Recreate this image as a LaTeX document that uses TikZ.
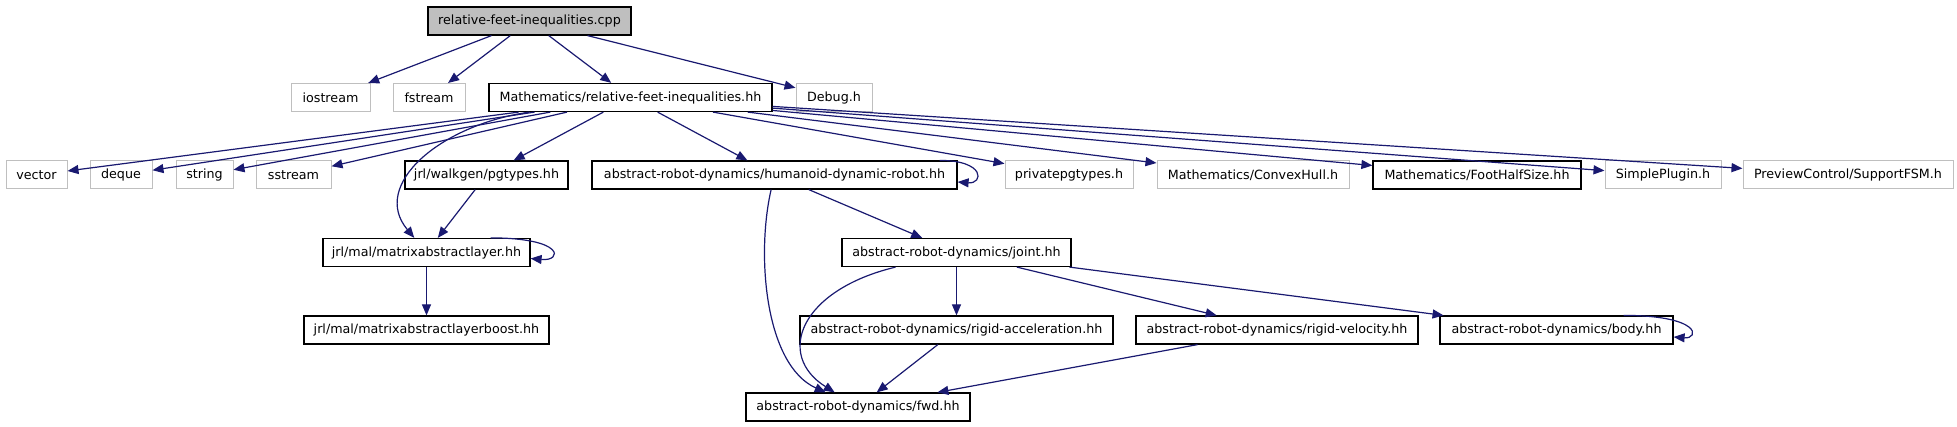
\documentclass[tikz,border=0pt]{standalone}
\usepackage{fontspec}
\setmainfont{DejaVu Sans}
\usetikzlibrary{arrows.meta}
\definecolor{depblue}{HTML}{191970}
\definecolor{sysgray}{HTML}{BFBFBF}

\begin{document}
\begin{tikzpicture}[x=1pt, y=-1pt,
  every node/.style={font=\fontsize{12.7}{15}\selectfont, minimum height=28pt, inner sep=0pt},
  incl/.style={draw=black, line width=1.2pt, fill=white},
  sysincl/.style={draw=sysgray, line width=1pt, fill=white},
  dep/.style={draw=depblue, line width=1.2pt, -{Triangle[length=11pt, width=9pt]}}]
  \useasboundingbox (0,0) rectangle (1957,427);

  % rank 0
  \node[incl, fill=sysgray, minimum width=203pt] (cpp) at (529.5,21) {relative-feet-inequalities.cpp};

  % rank 1
  \node[sysincl, minimum width=79pt] (iostream) at (330.5,97.5) {iostream};
  \node[sysincl, minimum width=72pt] (fstream) at (429,97.5) {fstream};
  \node[incl, minimum width=283pt] (math) at (630.5,97.5) {Mathematics/relative-feet-inequalities.hh};
  \node[sysincl, minimum width=76pt] (debug) at (834,97.5) {Debug.h};

  % rank 2
  \node[sysincl, minimum width=61pt] (vector) at (36.5,175) {vector};
  \node[sysincl, minimum width=62pt] (deque) at (121,175) {deque};
  \node[sysincl, minimum width=57pt] (string) at (204.5,175) {string};
  \node[sysincl, minimum width=75pt] (sstream) at (293.5,175) {sstream};
  \node[incl, minimum width=163pt] (pgtypes) at (486.5,175) {jrl/walkgen/pgtypes.hh};
  \node[incl, minimum width=365pt] (humanoid) at (774.5,175) {abstract-robot-dynamics/humanoid-dynamic-robot.hh};
  \node[sysincl, minimum width=128pt] (privpg) at (1069,175) {privatepgtypes.h};
  \node[sysincl, minimum width=192pt] (convexhull) at (1253,175) {Mathematics/ConvexHull.h};
  \node[incl, minimum width=208pt] (foothalf) at (1477,175) {Mathematics/FootHalfSize.hh};
  \node[sysincl, minimum width=116pt] (simpleplugin) at (1663,175) {SimplePlugin.h};
  \node[sysincl, minimum width=210pt] (supportfsm) at (1848,175) {PreviewControl/SupportFSM.h};

  % rank 3
  \node[incl, minimum width=207pt] (mal) at (426.5,252.5) {jrl/mal/matrixabstractlayer.hh};
  \node[incl, minimum width=229pt] (joint) at (956.5,252.5) {abstract-robot-dynamics/joint.hh};

  % rank 4
  \node[incl, minimum width=245pt] (malboost) at (426.5,330) {jrl/mal/matrixabstractlayerboost.hh};
  \node[incl, minimum width=313pt] (rigidacc) at (956.5,330) {abstract-robot-dynamics/rigid-acceleration.hh};
  \node[incl, minimum width=282pt] (rigidvel) at (1277,330) {abstract-robot-dynamics/rigid-velocity.hh};
  \node[incl, minimum width=233pt] (body) at (1556.5,330) {abstract-robot-dynamics/body.hh};

  % rank 5
  \node[incl, minimum width=224pt] (fwd) at (858,407) {abstract-robot-dynamics/fwd.hh};

  % includes of the .cpp
  \foreach \t in {iostream, fstream, math, debug}
    \draw[dep] (cpp) -- (\t);

  % includes of the .hh
  \foreach \t in {vector, deque, string, sstream, pgtypes, humanoid, privpg, convexhull, foothalf, simpleplugin, supportfsm}
    \draw[dep] (math) -- (\t);
  \draw[dep] (math) .. controls (440,125) and (370,185) .. (mal);

  \draw[dep] (pgtypes) -- (mal);
  \draw[dep] ([xshift=-40pt]mal.north east) .. controls ([xshift=35pt]mal.north east) and ([xshift=32pt,yshift=-9pt]mal.east) .. ([yshift=-6pt]mal.east);
  \draw[dep] (mal) -- (malboost);

  \draw[dep] ([xshift=-18pt]humanoid.north east) .. controls ([xshift=28pt]humanoid.north east) and ([xshift=26pt,yshift=-9pt]humanoid.east) .. ([yshift=-7pt]humanoid.east);
  \draw[dep] (humanoid) -- (joint);
  \draw[dep] (humanoid) .. controls (756,255) and (765,365) .. (fwd);

  \draw[dep] (joint) .. controls (800,290) and (775,355) .. (fwd);
  \foreach \t in {rigidacc, rigidvel, body}
    \draw[dep] (joint) -- (\t);

  \draw[dep] (rigidacc) -- (fwd);
  \draw[dep] (rigidvel) -- (fwd);
  \draw[dep] ([xshift=-50pt]body.north east) .. controls ([xshift=28pt]body.north east) and ([xshift=26pt,yshift=-9pt]body.east) .. ([yshift=-7pt]body.east);
\end{tikzpicture}
\end{document}
